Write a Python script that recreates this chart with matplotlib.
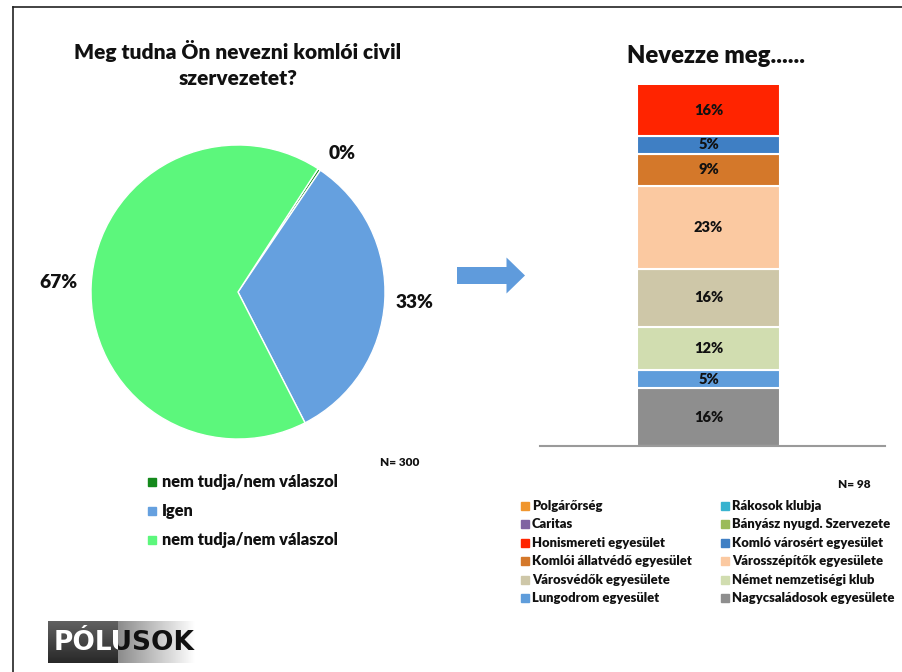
import numpy as np
import matplotlib
matplotlib.use("Agg")
import matplotlib.pyplot as plt
from matplotlib.patches import Rectangle, FancyArrow

# ---------------- data ----------------
pie_labels = ['nem tudja/nem válaszol', 'Igen', 'nem tudja/nem válaszol']
pie_values = [0.3, 33.0, 66.7]
pie_colors = ['#14891c', '#65a0df', '#5cf77c']
pie_title = 'Meg tudna Ön nevezni komlói civil\nszervezetet?'
pie_n = 'N= 300'

orgs = ['Polgárőrség', 'Rákosok klubja', 'Caritas', 'Bányász nyugd. Szervezete',
        'Honismereti egyesület', 'Komló városért egyesület',
        'Komlói állatvédő egyesület', 'Városszépítők egyesülete',
        'Városvédők egyesülete', 'Német nemzetiségi klub',
        'Lungodrom egyesület', 'Nagycsaládosok egyesülete']
org_values = [0, 0, 0, 0, 16, 5, 9, 23, 16, 12, 5, 16]
org_colors = ['#f0962e', '#38b3cf', '#8064a2', '#9bbb59', '#ff2400', '#3f7fc4',
              '#d4782a', '#fbc9a1', '#cec7a8', '#d1ddb0', '#5f9ddb', '#8e8e8e']
bar_title = 'Nevezze meg......'
bar_n = 'N= 98'

FONT = 'Lato'
WT = 'heavy'
plt.rcParams['font.family'] = [FONT, 'DejaVu Sans']

W, H = 902, 672
fig = plt.figure(figsize=(W / 100, H / 100), dpi=100)

def fx(px):
    return px / W

def fy(py):
    return 1 - py / H

# overlay axes in pixel coordinates
ov = fig.add_axes([0, 0, 1, 1], zorder=0)
ov.set_xlim(0, W)
ov.set_ylim(H, 0)
ov.axis('off')

# frame lines
ov.plot([13, 13], [7, H], color='#222222', lw=1.2)
ov.plot([13, W], [7, 7], color='#222222', lw=1.2)

# ---------------- pie ----------------
cx, cy, R = 238, 292, 147
pax = fig.add_axes([fx(cx - R), fy(cy + R), 2 * R / W, 2 * R / H])
wedges, _ = pax.pie(pie_values, colors=pie_colors, startangle=57, counterclock=False,
                    radius=1.0, wedgeprops=dict(edgecolor='white', linewidth=1.0))
pax.set_xlim(-1, 1)
pax.set_ylim(-1, 1)
pax.set_aspect('equal')
pax.axis('off')
dists = [1.18, 1.2, 1.22]
offs = [-3.5, 0, 0]
for w, v, d, o in zip(wedges, pie_values, dists, offs):
    ang = np.deg2rad((w.theta1 + w.theta2) / 2 + o)
    pax.text(d * np.cos(ang), d * np.sin(ang), f'{v:.0f}%', ha='center', va='center',
             fontsize=13.8, fontweight=WT, color='#111111', clip_on=False)

fig.text(fx(238), fy(64), pie_title, ha='center', va='center', fontsize=15,
         fontweight=WT, linespacing=1.4, color='#111111')
fig.text(fx(400), fy(462), pie_n, ha='center', va='center', fontsize=8.5,
         fontweight=WT, color='#111111')

for i, (lab, col) in enumerate(zip(pie_labels, pie_colors)):
    yy = 482 + i * 29
    ov.add_patch(Rectangle((148, yy - 4), 8, 8, color=col))
    ov.text(162, yy, lab, ha='left', va='center', fontsize=11.8, fontweight=WT,
            color='#111111')

# ---------------- arrow ----------------
ov.add_patch(FancyArrow(457, 275.5, 68, 0, width=17, head_width=36, head_length=18.5,
                        length_includes_head=True, color='#5f9bdc', lw=0))

# ---------------- stacked bar ----------------
bl, br, bt, bb = 540, 885, 85, 446
bax = fig.add_axes([fx(bl), fy(bb), (br - bl) / W, (bb - bt) / H])
bar_w = 143 / (br - bl)
xc = 0.0
bax.set_xlim(-(708.5 - bl) / (br - bl), (br - 708.5) / (br - bl))
bax.set_ylim(0, 100)
bottom = 0.0
for lab, val, col in zip(orgs[::-1], org_values[::-1], org_colors[::-1]):
    if val > 0:
        bax.bar(xc, val, width=bar_w, bottom=bottom, color=col, edgecolor='white',
                linewidth=1.5)
        top = min(bottom + val, 100)
        bax.text(xc, (bottom + top) / 2, f'{val}%', ha='center', va='center',
                 fontsize=10.5, fontweight=WT, color='#111111')
    bottom += val
for s in ['top', 'right', 'left']:
    bax.spines[s].set_visible(False)
bax.spines['bottom'].set_color('#9a9a9a')
bax.spines['bottom'].set_linewidth(1.5)
bax.set_xticks([])
bax.set_yticks([])
bax.patch.set_alpha(0)

fig.text(fx(716), fy(56), bar_title, ha='center', va='center', fontsize=17.2,
         fontweight=WT, color='#111111')
fig.text(fx(854), fy(485), bar_n, ha='center', va='center', fontsize=8.5,
         fontweight=WT, color='#111111')

for i, (lab, col) in enumerate(zip(orgs, org_colors)):
    r, c = divmod(i, 2)
    yy = 506 + r * 18.4
    sx = 521 if c == 0 else 721
    ov.add_patch(Rectangle((sx, yy - 4), 8, 8, color=col))
    ov.text(sx + 11, yy, lab, ha='left', va='center', fontsize=9.4, fontweight=WT,
            color='#111111')

# ---------------- logo ----------------
grad_dark = np.linspace(0.38, 0.16, 50)[:, None] * np.ones((1, 10))
ov.imshow(grad_dark, cmap='gray', vmin=0, vmax=1, extent=(48, 118, 663, 621),
          aspect='auto', zorder=1)
grad_light = np.ones((10, 1)) * np.linspace(0.55, 1.0, 60)[None, :]
ov.imshow(grad_light, cmap='gray', vmin=0, vmax=1, extent=(118, 196, 663, 621),
          aspect='auto', zorder=1)
ov.set_xlim(0, W)
ov.set_ylim(H, 0)
clip_dark = Rectangle((48, 621), 70, 42, transform=ov.transData, visible=False)
clip_light = Rectangle((118, 621), 78, 42, transform=ov.transData, visible=False)
ov.add_patch(clip_dark)
ov.add_patch(clip_light)
for colr, clip in [('white', clip_dark), ('#111111', clip_light)]:
    t = ov.text(124, 643, 'PÓLUSOK', ha='center', va='center', fontsize=19,
                fontweight='bold', family='DejaVu Sans', color=colr, zorder=2)
    t.set_clip_path(clip)
    t.set_clip_on(True)

fig.savefig('out.png', dpi=100, facecolor='white')
